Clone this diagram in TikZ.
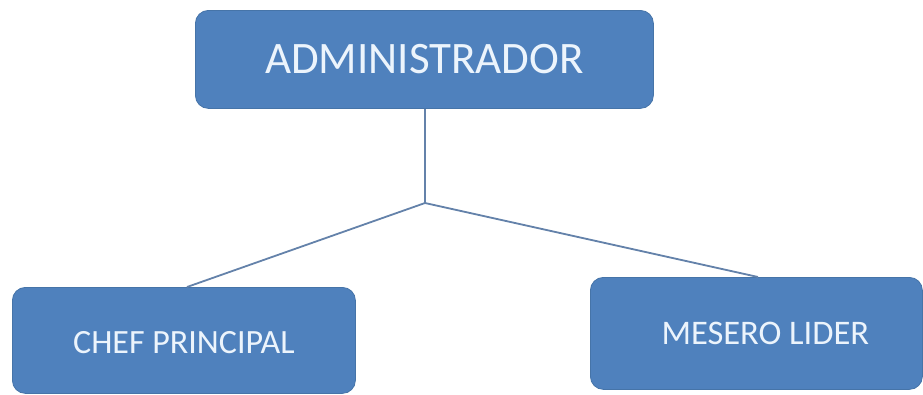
\documentclass[tikz,border=0pt]{standalone}
\usepackage{fontspec}
\setmainfont{Carlito}
\definecolor{boxfill}{RGB}{79,129,189}
\definecolor{boxline}{RGB}{70,116,168}
\definecolor{linkcol}{RGB}{100,130,170}
\definecolor{txtcol}{RGB}{236,244,252}
\begin{document}
\begin{tikzpicture}[x=1pt,y=-1pt,
  orgbox/.style={draw=boxline,fill=boxfill,rounded corners=13pt,line width=0.8pt,
    text=txtcol,inner sep=0pt,anchor=north west},
  link/.style={draw=linkcol,line width=1.8pt}]
\useasboundingbox (0,0) rectangle (923,394);
\node[orgbox,minimum width=458,minimum height=98,font=\fontsize{45}{50}\selectfont] (adm) at (195,10) {ADMINISTRADOR};
\node[orgbox,minimum width=343,minimum height=106,font=\fontsize{34}{40}\selectfont,text depth=0pt] (chef) at (12,287) {\raisebox{-4pt}{CHEF PRINCIPAL}};
\node[orgbox,minimum width=332,minimum height=112,font=\fontsize{34.5}{40}\selectfont] (mes) at (590,277) {\hspace*{18pt}MESERO LIDER};
\coordinate (j) at (425,203);
\draw[link] (adm.south -| j) -- (j);
\draw[link] (j) -- (chef.north -| 187,0);
\draw[link] (j) -- (mes.north -| 758,0);
\end{tikzpicture}
\end{document}
